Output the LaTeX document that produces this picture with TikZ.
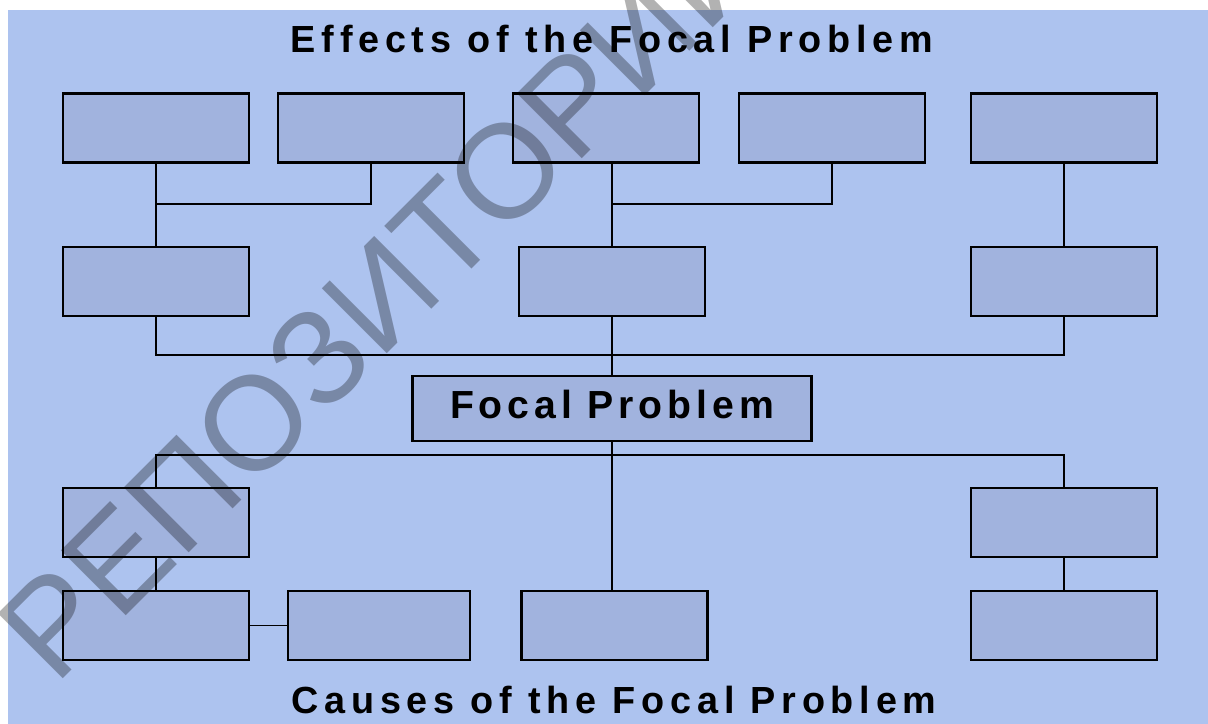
\documentclass[tikz,border=0pt]{standalone}
\usepackage{fontspec}
\setmainfont{Liberation Sans}
\definecolor{fond}{HTML}{ADC3EF}
\definecolor{boite}{HTML}{A1B3DE}
\begin{document}
\begin{tikzpicture}[x=0.02cm, y=-0.02cm,
	box/.style={draw, line width=1.2pt, fill=boite, minimum width=3.72cm, minimum height=1.38cm, inner sep=0pt},
	lien/.style={line width=1pt},
	titre/.style={font=\fontsize{21.5}{25}\selectfont\bfseries\addfontfeature{LetterSpace=15.2}}]
	\useasboundingbox (0,0) rectangle (1208,724);
	\fill[fond] (8,10) rectangle (1208,724);

	\node[titre, anchor=base] (effets) at (612,52) {Effects of the Focal Problem};
	\node[titre, anchor=base] (causes) at (614,713) {Causes of the Focal Problem};

	\node[box] (e1) at (156,128) {};
	\node[box] (e2) at (371,128) {};
	\node[box] (e3) at (606,128) {};
	\node[box] (e4) at (832,128) {};
	\node[box] (e5) at (1064,128) {};

	\node[box] (m1) at (156,281.5) {};
	\node[box] (m2) at (612,281.5) {};
	\node[box] (m3) at (1064,281.5) {};

	\node[box, minimum width=7.98cm, minimum height=1.3cm, text height=16.5pt, text depth=5.4pt,
		font=\fontsize{22.3}{26}\selectfont\bfseries\addfontfeature{LetterSpace=12.5}] (fp) at (612,408.5) {Focal Problem};

	\node[box] (c1) at (156,522.5) {};
	\node[box] (c2) at (1064,522.5) {};
	\node[box] (c3) at (156,625.5) {};
	\node[box, minimum width=3.64cm] (c4) at (379,625.5) {};
	\node[box] (c5) at (614.5,625.5) {};
	\node[box] (c6) at (1064,625.5) {};

	\coordinate (j1) at (156,204);
	\coordinate (j2) at (612,204);
	\coordinate (j3) at (612,355);
	\coordinate (j4) at (612,455);

	\draw[lien] (e1.south) -- (m1.north);
	\draw[lien] (e2.south) |- (j1);
	\draw[lien] (e3.south -| m2.north) -- (m2.north);
	\draw[lien] (e4.south) |- (j2);
	\draw[lien] (e5.south) -- (m3.north);

	\draw[lien] (m1.south) |- (j3) -| (m3.south);
	\draw[lien] (m2.south) -- (fp.north);

	\draw[lien] (c1.north) |- (j4) -| (c2.north);
	\draw[lien] (fp.south) -- (fp.south |- c5.north);
	\draw[lien] (c1.south) -- (c3.north);
	\draw[lien] (c2.south) -- (c6.north);
	\draw[lien] (c3.east) -- (c4.west);

	\node[rotate=45, text=black, text opacity=0.3, font=\fontsize{76}{76}\selectfont] (filigrane) at (372,285) {РЕПОЗИТОРИЙ};
\end{tikzpicture}
\end{document}
